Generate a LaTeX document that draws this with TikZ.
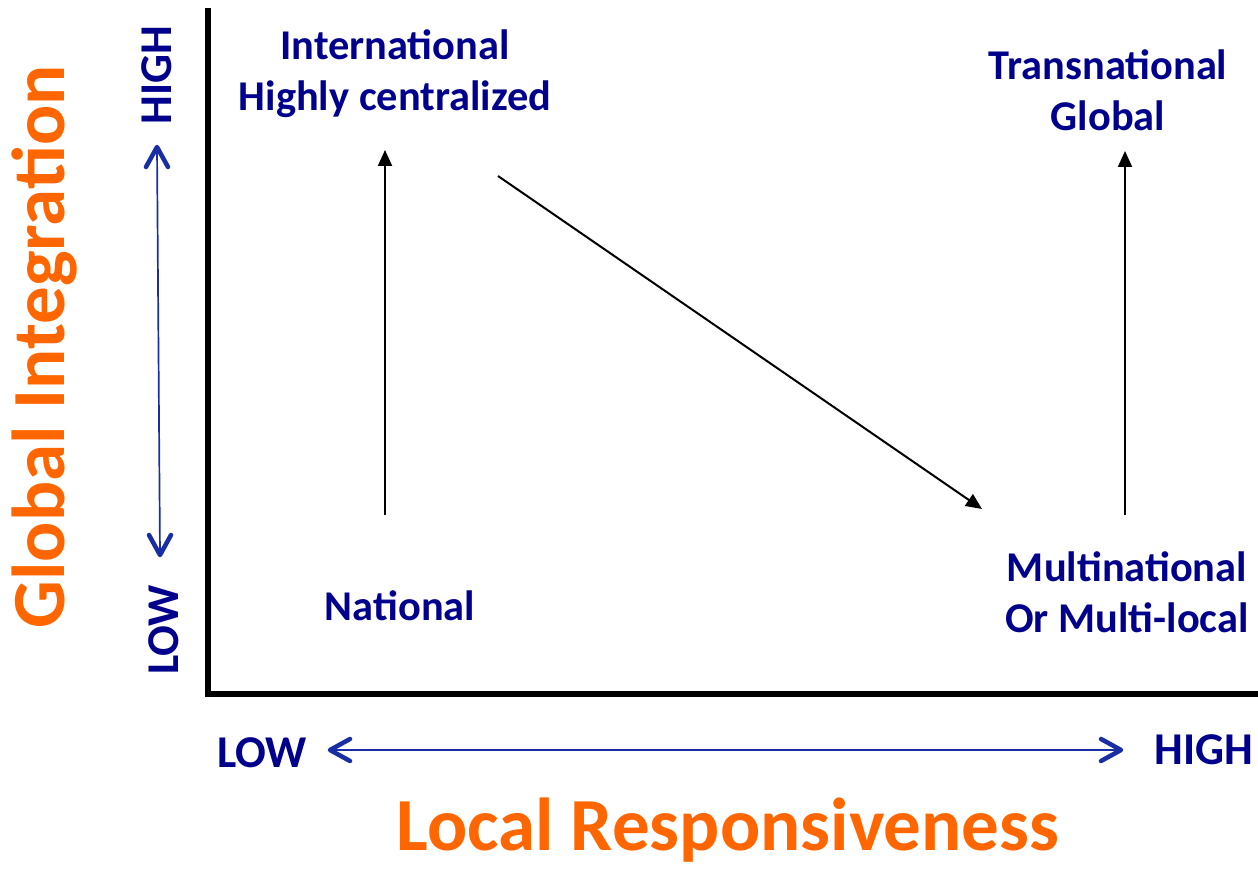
\documentclass[tikz,border=0pt]{standalone}
\usepackage{fontspec}
\setmainfont{Carlito}
\usetikzlibrary{arrows.meta}
\definecolor{navy}{RGB}{0,0,140}
\definecolor{axisblue}{RGB}{25,45,165}
\definecolor{orangeT}{RGB}{255,102,0}
\begin{document}
\begin{tikzpicture}[x=1pt,y=-1pt,
  lbl/.style={text=navy,font=\bfseries\fontsize{42.4}{51}\selectfont,align=center,inner sep=0pt},
  axlbl/.style={text=navy,font=\bfseries\fontsize{45.5}{54}\selectfont,inner sep=0pt},
  axtitle/.style={text=orangeT,font=\bfseries\fontsize{75}{84}\selectfont,inner sep=0pt},
  flow/.style={line width=2pt,-{Triangle[length=16pt,width=14pt]}},
  rangeline/.style={axisblue,line width=1.7pt},
  barbhead/.style={axisblue,line width=4.5pt,line cap=round,line join=round}]
\useasboundingbox (0,0) rectangle (1258,869);

% axes
\draw[line width=5.5pt] (208,8) -- (208,694) -- (1258,694);

% axis titles
\node[axtitle,rotate=90] (glob) at (44,347) {Global Integration};
\node[axtitle] (lresp) at (728,830) {Local Responsiveness};

% scale ends
\node[axlbl,rotate=90] (yhigh) at (157,75) {HIGH};
\node[axlbl,rotate=90] (ylow) at (164,630) {LOW};
\node[axlbl] (xlow) at (262,753) {LOW};
\node[axlbl] (xhigh) at (1204,750) {HIGH};

% two-headed scale arrows with open barbs
\coordinate (ytop) at (157,147);
\coordinate (ybot) at (160,555);
\coordinate (xleft) at (330,750);
\coordinate (xright) at (1121,750);
\draw[rangeline] (ytop) -- (ybot);
\draw[rangeline] (xleft) -- (xright);
\draw[barbhead] (ytop) ++(-11,20) -- (ytop) -- ++(11,20);
\draw[barbhead] (ybot) ++(-11,-20) -- (ybot) -- ++(11,-20);
\draw[barbhead] (xleft) ++(20,-11) -- (xleft) -- ++(20,11);
\draw[barbhead] (xright) ++(-20,-11) -- (xright) -- ++(-20,11);

% strategy labels
\node[lbl] (intl) at (395,74) {International\\Highly centralized};
\node[lbl] (trans) at (1108,90) {Transnational\\Global};
\node[lbl] (nat) at (400,606) {National};
\node[lbl] (multi) at (1127,592) {Multinational\\Or Multi-local};

% transitions
\coordinate (natup) at (385,515);
\coordinate (intlbot) at (385,150);
\coordinate (intlright) at (498,176);
\coordinate (multitop) at (982,509);
\coordinate (multiup) at (1125,515);
\coordinate (transbot) at (1125,151);
\draw[flow] (natup) -- (intlbot);
\draw[flow] (intlright) -- (multitop);
\draw[flow] (multiup) -- (transbot);
\end{tikzpicture}
\end{document}
